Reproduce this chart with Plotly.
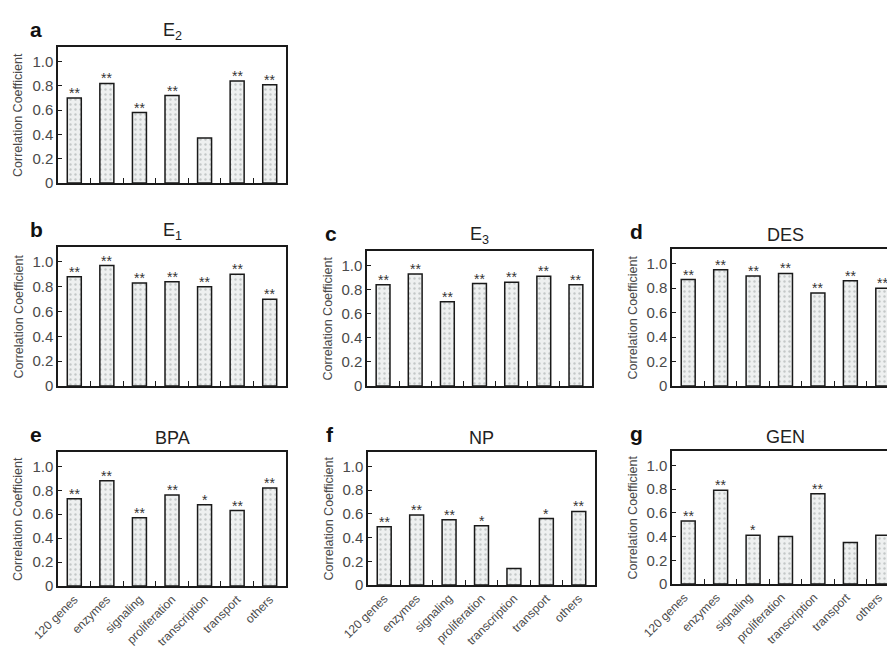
import plotly.graph_objects as go

# browser page has an 8px body margin; the figure is sized so the page
# does not overflow the 895x655 window
OFF = 8
W, H = 895 - 2 * OFF, 655 - 2 * OFF
VIS_R = OFF + W  # right-most visible screen pixel of the figure

categories = ["120 genes", "enzymes", "signaling", "proliferation",
              "transcription", "transport", "others"]

e2_values = [0.70, 0.82, 0.58, 0.72, 0.37, 0.84, 0.81]
e2_stars = ["**", "**", "**", "**", "", "**", "**"]

e1_values = [0.88, 0.97, 0.83, 0.84, 0.80, 0.90, 0.70]
e1_stars = ["**", "**", "**", "**", "**", "**", "**"]

e3_values = [0.84, 0.93, 0.70, 0.85, 0.86, 0.91, 0.84]
e3_stars = ["**", "**", "**", "**", "**", "**", "**"]

des_values = [0.87, 0.95, 0.90, 0.92, 0.76, 0.86, 0.80]
des_stars = ["**", "**", "**", "**", "**", "**", "**"]

bpa_values = [0.73, 0.88, 0.57, 0.76, 0.68, 0.63, 0.82]
bpa_stars = ["**", "**", "**", "**", "*", "**", "**"]

np_values = [0.49, 0.59, 0.55, 0.50, 0.14, 0.56, 0.62]
np_stars = ["**", "**", "**", "*", "", "*", "**"]

gen_values = [0.53, 0.79, 0.41, 0.40, 0.76, 0.35, 0.41]
gen_stars = ["**", "**", "*", "", "**", "", ""]

y_tickvals = [0, 0.2, 0.4, 0.6, 0.8, 1.0]
y_ticktext = ["0", "0.2", "0.4", "0.6", "0.8", "1.0"]

# panel layout (screen pixel boxes: left, right, top, bottom)
panels = [
    dict(letter="a", title="E<sub>2</sub>", values=e2_values, stars=e2_stars,
         box=(58, 286, 47, 183), labels=False),
    dict(letter="b", title="E<sub>1</sub>", values=e1_values, stars=e1_stars,
         box=(58, 286, 247, 386), labels=False),
    dict(letter="c", title="E<sub>3</sub>", values=e3_values, stars=e3_stars,
         box=(367, 592, 251, 386), labels=False),
    dict(letter="d", title="DES", values=des_values, stars=des_stars,
         box=(672, 899, 249, 386), labels=False),
    dict(letter="e", title="BPA", values=bpa_values, stars=bpa_stars,
         box=(58, 286, 452, 586), labels=True),
    dict(letter="f", title="NP", values=np_values, stars=np_stars,
         box=(368, 595, 452, 585), labels=True),
    dict(letter="g", title="GEN", values=gen_values, stars=gen_stars,
         box=(672, 899, 451, 584), labels=True),
]

FONT = "Liberation Sans, Arial, sans-serif"
GRAY = "#4a4a4a"


def px(xs):
    return (xs - OFF) / W


def py(ys):
    return 1 - (ys - OFF) / H


fig = go.Figure()
annotations = []
layout_axes = {}

for i, p in enumerate(panels):
    n = i + 1
    xa = "x" if n == 1 else f"x{n}"
    ya = "y" if n == 1 else f"y{n}"
    xkey = "xaxis" if n == 1 else f"xaxis{n}"
    ykey = "yaxis" if n == 1 else f"yaxis{n}"
    l, r, t, b = p["box"]
    clip = r > VIS_R

    fig.add_trace(go.Bar(
        x=categories, y=p["values"],
        width=0.43,
        marker=dict(
            color="#eceeee",
            line=dict(color="#1a1a1a", width=1.5),
            pattern=dict(shape=".", fgcolor="#c4c8c8", bgcolor="#eef0f0",
                         size=5, solidity=0.18),
        ),
        xaxis=xa, yaxis=ya, showlegend=False, hoverinfo="x+y",
    ))

    # significance stars
    for c, v, s in zip(categories, p["values"], p["stars"]):
        if s:
            annotations.append(dict(
                x=c, y=v, xref=xa, yref=ya, xanchor="center",
                yanchor="bottom", yshift=-5, text=s, showarrow=False,
                font=dict(size=14, color="#333333", family=FONT),
            ))

    xr = [-0.5, 6.5]
    rr = r
    if clip:
        spacing = (r - l) / 7.0
        xr = [-0.5, 6.5 - (r - VIS_R) / spacing]
        rr = VIS_R

    layout_axes[xkey] = dict(
        domain=[px(l), min(1.0, px(rr))], anchor=ya, type="category",
        automargin=False,
        range=xr, showline=True, linecolor="#1a1a1a", linewidth=1.5,
        mirror=True, ticks="inside", ticklen=5, tickwidth=1.2,
        tickcolor="#1a1a1a", tickson="boundaries",
        showticklabels=p["labels"], tickangle=-45,
        ticklabelshift=(-4 if clip else 0),
        tickfont=dict(size=12, color=GRAY, family=FONT),
        showgrid=False, zeroline=False, fixedrange=True,
    )
    layout_axes[ykey] = dict(
        domain=[py(b), py(t)], anchor=xa, range=[0, 1.12],
        automargin=False,
        showline=True, linecolor="#1a1a1a", linewidth=1.5,
        mirror=(not clip), ticks="inside", ticklen=4, tickwidth=1.2,
        tickcolor="#1a1a1a", tickvals=y_tickvals, ticktext=y_ticktext,
        tickfont=dict(size=15, color=GRAY, family=FONT),
        showgrid=False, zeroline=False, fixedrange=True,
    )

    # panel title
    xc = (l + r) / 2.0
    annotations.append(dict(
        x=px(xc), y=py(t), xref="paper", yref="paper",
        xanchor="center", yanchor="bottom", yshift=2,
        text=p["title"], showarrow=False,
        font=dict(size=18, color="#222222", family=FONT),
    ))
    # panel letter
    lx = l - 30 if l < 100 else l - 44
    annotations.append(dict(
        x=px(lx), y=py(t), xref="paper", yref="paper",
        xanchor="left", yanchor="bottom", yshift=4,
        text=f"<b>{p['letter']}</b>", showarrow=False,
        font=dict(size=21, color="#111111", family=FONT),
    ))
    # y axis title
    annotations.append(dict(
        x=px(l - 40), y=py((t + b) / 2.0), xref="paper", yref="paper",
        xanchor="center", yanchor="middle", textangle=-90,
        text="Correlation Coefficient", showarrow=False,
        font=dict(size=12.5, color=GRAY, family=FONT),
    ))

fig.update_layout(
    template="none",
    width=W, height=H,
    margin=dict(l=0, r=0, t=0, b=0, pad=0),
    paper_bgcolor="white", plot_bgcolor="white",
    annotations=annotations,
    **layout_axes,
)

fig.write_html("out.html")
